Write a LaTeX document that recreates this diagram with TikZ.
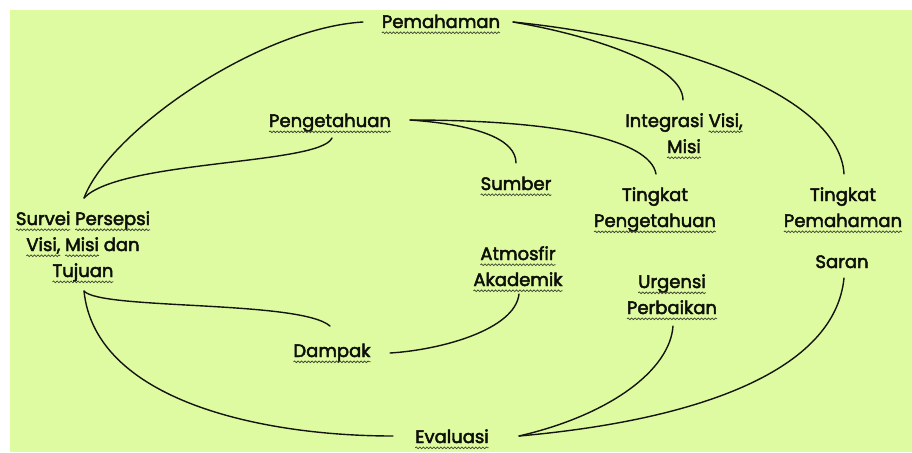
\documentclass[tikz,border=0pt]{standalone}
\usepackage{fontspec}
\setmainfont{Poppins}
\newfontfamily\lblfam{Poppins}[FakeBold=2.6]
\usetikzlibrary{decorations.pathmorphing}
\definecolor{bgc}{RGB}{222,251,162}
\definecolor{txt}{RGB}{15,15,10}
\definecolor{wavec}{RGB}{65,70,50}
\definecolor{linec}{RGB}{20,20,15}
\newcommand\lblfont{\lblfam\fontsize{18}{26}\selectfont}
\newcommand\wu[1]{\tikz[baseline=(wq.base)]{\node[inner sep=0pt,outer sep=0pt,anchor=base](wq){#1};\draw[overlay,wavec,line width=0.75pt,decorate,decoration={snake,amplitude=0.85pt,segment length=3.5pt}] ([yshift=-4.8pt]wq.base west) -- ([yshift=-4.8pt]wq.base east);}}
\tikzset{
  lbl/.style={font=\lblfont, text=txt, inner sep=0pt, outer sep=0pt, align=center, anchor=base},
  conn/.style={draw=linec, line width=1.4pt, line cap=round}
}
\begin{document}
\begin{tikzpicture}[x=1pt,y=-1pt]
\useasboundingbox (0,0) rectangle (912,452);
\fill[white] (0,0) rectangle (912,452);
\fill[bgc] (10,10) rectangle (912,452);

% multi-line nodes are placed at the baseline of their last line
\node[lbl] (pem) at (441,28) {\wu{Pemahaman}};
\node[lbl] (peng) at (330,127) {\wu{Pengetahuan}};
\node[lbl] (surv) at (83,277) {\wu{Survei} \wu{Persepsi}\\ \wu{Visi,} \wu{Misi} dan\\ \wu{Tujuan}};
\node[lbl] (integ) at (684,153) {Integrasi \wu{Visi,}\\ \wu{Misi}};
\node[lbl] (sumber) at (516,190) {\wu{Sumber}};
\node[lbl] (tp) at (655,227) {Tingkat\\ \wu{Pengetahuan}};
\node[lbl] (tpm) at (843,227) {Tingkat\\ \wu{Pemahaman}};
\node[lbl] (saran) at (842,268) {Saran};
\node[lbl] (atmos) at (518,286) {\wu{Atmosfir}\\ \wu{Akademik}};
\node[lbl] (urg) at (672,314) {\wu{Urgensi}\\ \wu{Perbaikan}};
\node[lbl] (dampak) at (332,357) {\wu{Dampak}};
\node[lbl] (eval) at (452,443) {\wu{Evaluasi}};

% Pemahaman branches
\draw[conn] ([shift={(-78,-6)}]pem.base) .. controls (260,28) and (110,130) .. ([shift={(1,-79)}]surv.base);
\draw[conn] ([shift={(72,-6)}]pem.base) .. controls (590,35) and (683,65) .. ([shift={(-1,-53)}]integ.base);
\draw[conn] ([shift={(72,-6)}]pem.base) .. controls (690,40) and (840,100) .. ([shift={(1,-53)}]tpm.base);
% Pengetahuan branches
\draw[conn] ([shift={(2,11)}]peng.base) .. controls (320,165) and (120,160) .. ([shift={(1,-79)}]surv.base);
\draw[conn] ([shift={(80,-7)}]peng.base) .. controls (480,125) and (516,140) .. ([shift={(0,-27)}]sumber.base);
\draw[conn] ([shift={(80,-7)}]peng.base) .. controls (560,120) and (650,140) .. ([shift={(1,-53)}]tp.base);
% Survei lower branches
\draw[conn] ([shift={(1,14)}]surv.base) .. controls (100,310) and (300,300) .. ([shift={(-2,-31)}]dampak.base);
\draw[conn] ([shift={(1,14)}]surv.base) .. controls (95,400) and (260,436) .. ([shift={(-59,-7)}]eval.base);
% Dampak to Atmosfir
\draw[conn] ([shift={(58,-4)}]dampak.base) .. controls (440,350) and (515,330) .. ([shift={(1,8)}]atmos.base);
% Evaluasi branches
\draw[conn] ([shift={(67,-7)}]eval.base) .. controls (610,415) and (670,370) .. ([shift={(1,12)}]urg.base);
\draw[conn] ([shift={(67,-7)}]eval.base) .. controls (700,420) and (835,370) .. ([shift={(2,10)}]saran.base);
\end{tikzpicture}
\end{document}
